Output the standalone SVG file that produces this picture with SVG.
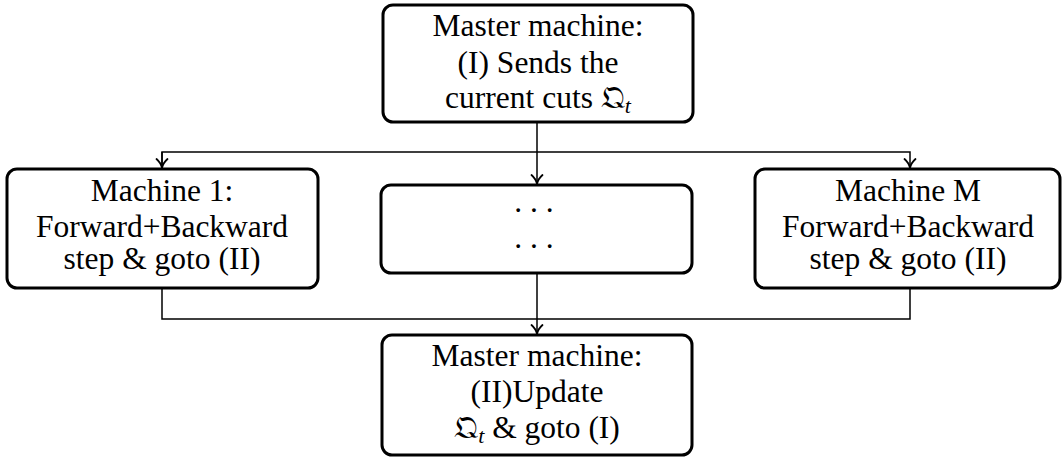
<svg xmlns="http://www.w3.org/2000/svg" width="1062" height="458" viewBox="0 0 1062 458">
<style>
.box{fill:#fff;stroke:#000;stroke-width:3}
.t{font-family:"Liberation Serif","Times New Roman",serif;font-size:31.5px;fill:#000;text-anchor:middle}
.c{fill:none;stroke:#000;stroke-width:1.5}
.i{font-style:italic;font-size:22px}
</style>
<defs>
<marker id="ah" markerWidth="14" markerHeight="14" refX="12" refY="7" orient="auto" markerUnits="userSpaceOnUse">
<path d="M3,1.5 Q7,6 12,7 Q7,8 3,12.5" fill="none" stroke="#000" stroke-width="1.8" stroke-linecap="round"/>
</marker>
</defs>
<g id="connectors">
<path class="c" d="M537,122 V184" marker-end="url(#ah)"/>
<path class="c" d="M162,168 V152 H910 V168" marker-end="url(#ah)"/>
<path class="c" d="M162,152 V168" marker-end="url(#ah)"/>
<path class="c" d="M162,288 V319 H910 V288"/>
<path class="c" d="M537,273 V334" marker-end="url(#ah)"/>
</g>
<g id="master-top">
<rect class="box" x="383" y="5" width="310" height="117" rx="10"/>
<text class="t" x="538" y="36">Master machine:</text>
<text class="t" x="538" y="73">(I) Sends the</text>
<text class="t" x="538" y="108">current cuts 𝔔<tspan class="i" dy="5">t</tspan></text>
</g>
<g id="machine-1">
<rect class="box" x="7" y="169" width="311" height="119" rx="10"/>
<text class="t" x="162" y="201">Machine 1:</text>
<text class="t" x="162" y="237">Forward+Backward</text>
<text class="t" x="162" y="269">step &amp; goto (II)</text>
</g>
<g id="machine-dots">
<rect class="box" x="381" y="185" width="311" height="88" rx="10"/>
<text class="t" x="534" y="212">. . .</text>
<text class="t" x="534" y="248">. . .</text>
</g>
<g id="machine-m">
<rect class="box" x="755" y="169" width="305" height="119" rx="10"/>
<text class="t" x="908" y="201">Machine M</text>
<text class="t" x="908" y="237">Forward+Backward</text>
<text class="t" x="908" y="269">step &amp; goto (II)</text>
</g>
<g id="master-bottom">
<rect class="box" x="382" y="335" width="310" height="120" rx="10"/>
<text class="t" x="537" y="366">Master machine:</text>
<text class="t" x="537" y="402">(II)Update</text>
<text class="t" x="537" y="438">𝔔<tspan class="i" dy="5">t</tspan><tspan dy="-5"> &amp; goto (I)</tspan></text>
</g>
</svg>
